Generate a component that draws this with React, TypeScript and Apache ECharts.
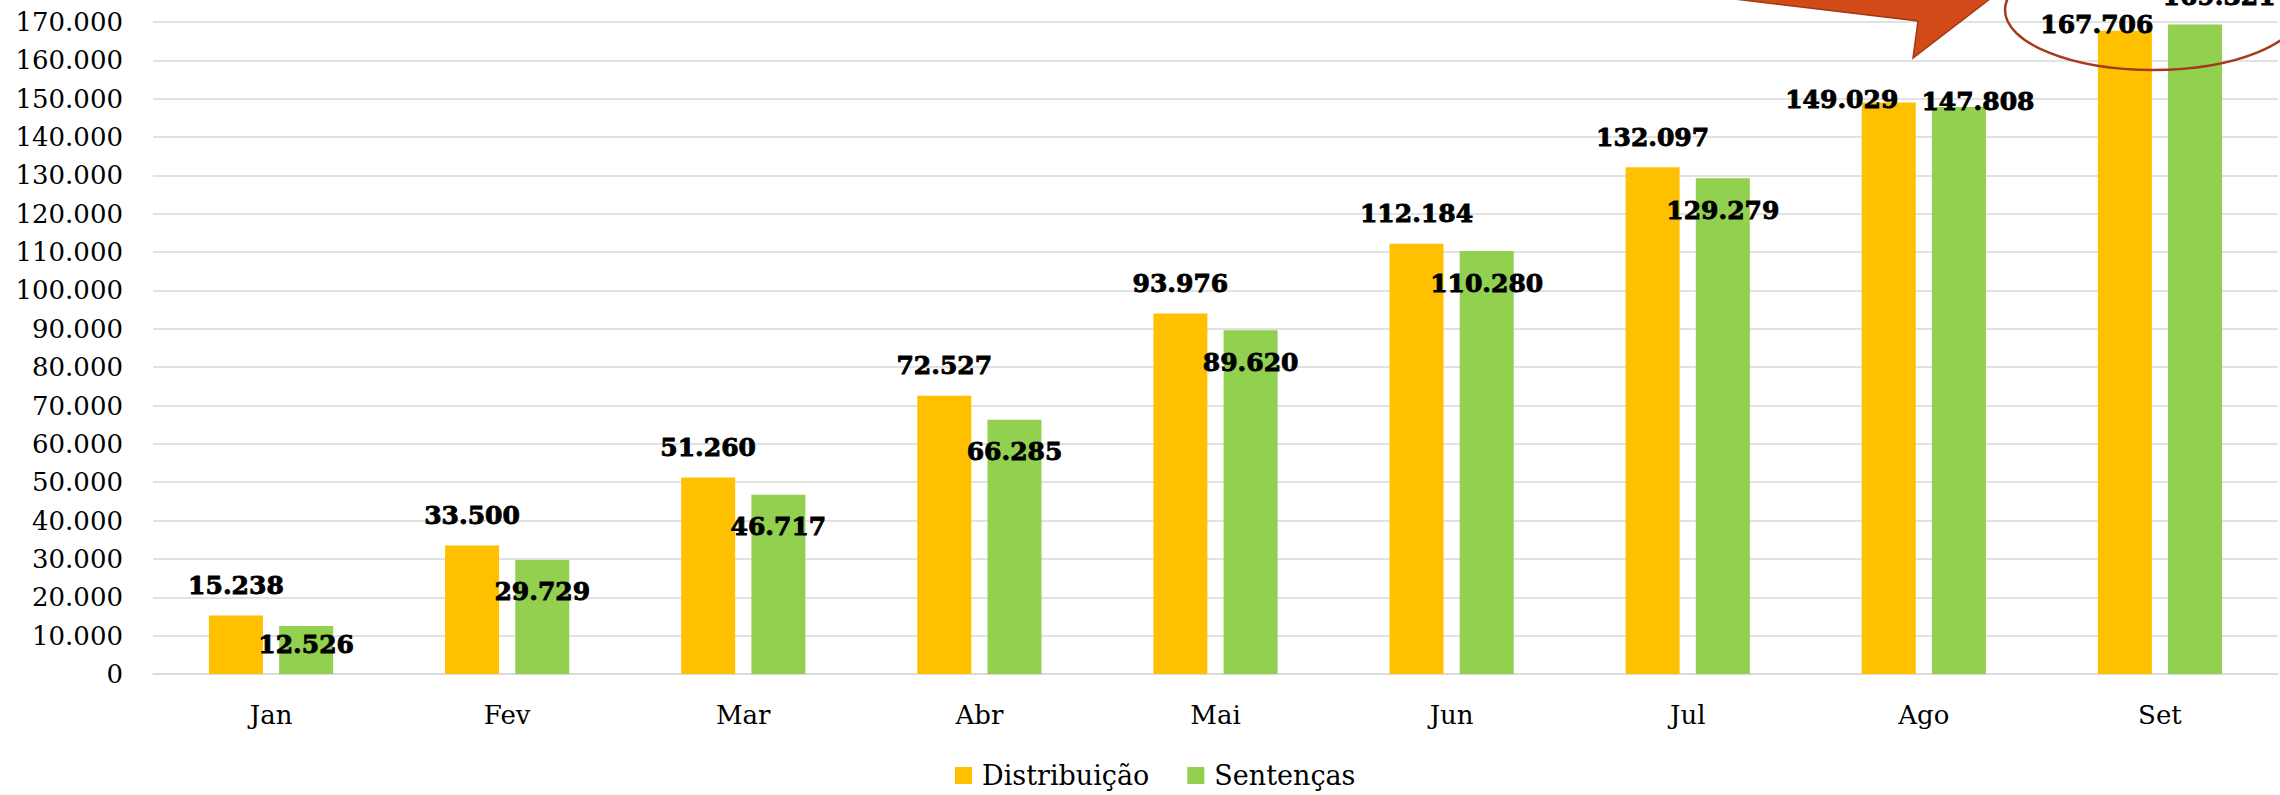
import React, { useEffect, useRef } from "react";
import * as echarts from "echarts";

const months = ["Jan", "Fev", "Mar", "Abr", "Mai", "Jun", "Jul", "Ago", "Set"];
const distribuicao = [15238, 33500, 51260, 72527, 93976, 112184, 132097, 149029, 167706];
const sentencas = [12526, 29729, 46717, 66285, 89620, 110280, 129279, 147808, 169321];
const seriesNames = ["Distribuição", "Sentenças"];

// manual nudges of individual value labels (as placed in the original)
const distLabelShift: [number, number][] = [[0, 0], [0, 0], [0, 0], [0, 0], [0, 0], [0, 0], [0, 0], [-47, 27], [-28, 24]];
const sentLabelShift: [number, number][] = [[0, -13], [0, 0], [0, 0], [0, 0], [0, 0], [0, 0], [0, 0], [19, -38], [24, -60]];

const fmt = (v: number) => String(Math.round(v)).replace(/\B(?=(\d{3})+(?!\d))/g, ".");

const FONT = "'DejaVu Serif', serif";

export default function App() {
  const ref = useRef<HTMLDivElement>(null);
  useEffect(() => {
    document.body.style.margin = "0";
    const chart = echarts.init(ref.current!, null, { renderer: "svg" });
    const labelBase = {
      show: true,
      color: "#000",
      fontFamily: FONT,
      fontWeight: "bold" as const,
      fontSize: 25,
      lineHeight: 26,
      textBorderColor: "#000",
      textBorderWidth: 0.9,
      formatter: (p: any) => fmt(p.value),
    };
    chart.setOption({
      animation: false,
      backgroundColor: "#fff",
      color: ["#FFC000", "#92D050"],
      grid: { left: 153, right: 2, top: 22, bottom: 121, containLabel: false },
      legend: {
        data: seriesNames,
        left: 950,
        top: 757,
        itemWidth: 17,
        itemHeight: 17,
        itemGap: 38,
        icon: "rect",
        textStyle: { color: "#000", fontFamily: FONT, fontSize: 27, padding: [0, 0, 0, 5] },
      },
      xAxis: {
        type: "category",
        data: months,
        axisTick: { show: false },
        axisLine: { show: true, lineStyle: { color: "#D9D9D9", width: 1.5 } },
        axisLabel: { color: "#000", fontFamily: FONT, fontSize: 26, margin: 28, lineHeight: 26 },
      },
      yAxis: {
        type: "value",
        min: 0,
        max: 170000,
        interval: 10000,
        axisLine: { show: false },
        axisTick: { show: false },
        splitLine: { lineStyle: { color: "#D9D9D9", width: 1.5 } },
        axisLabel: { color: "#000", fontFamily: FONT, fontSize: 26, margin: 30, formatter: (v: number) => fmt(v) },
      },
      series: [
        {
          name: seriesNames[0],
          type: "bar",
          barWidth: 54,
          barGap: "30%",
          data: distribuicao.map((v, i) => ({ value: v, label: { offset: distLabelShift[i] } })),
          label: { ...labelBase, position: "top", distance: 17 },
        },
        {
          name: seriesNames[1],
          type: "bar",
          barWidth: 54,
          barGap: "30%",
          data: sentencas.map((v, i) => ({ value: v, label: { offset: sentLabelShift[i] } })),
          label: { ...labelBase, position: "insideTop", distance: 19 },
        },
      ],
      graphic: [
        {
          type: "polygon",
          z: 100,
          shape: { points: [[1701, -5], [1918, 21], [1913, 58], [1995, -5]] },
          style: { fill: "#D24A18", stroke: "#9E3A17", lineWidth: 1.5 },
        },
        {
          type: "ellipse",
          z: 100,
          shape: { cx: 2153, cy: 10, rx: 148, ry: 60 },
          style: { fill: "none", stroke: "#A33A1A", lineWidth: 2.5 },
        },
      ],
    });
    return () => chart.dispose();
  }, []);
  return <div ref={ref} style={{ width: 2280, height: 795 }} />;
}
